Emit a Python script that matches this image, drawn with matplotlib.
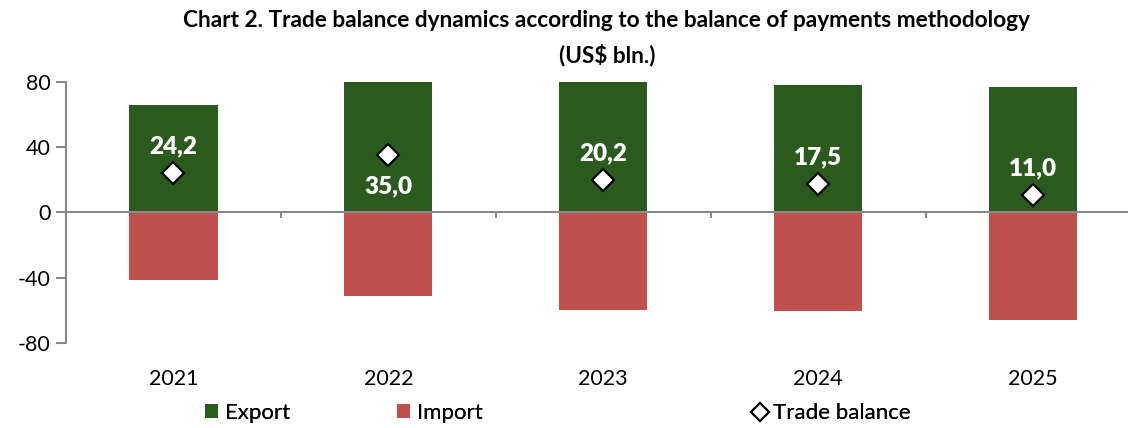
import matplotlib.pyplot as plt
from matplotlib.lines import Line2D
from matplotlib.patches import Patch

plt.rcParams['font.family'] = ['Lato', 'DejaVu Sans']

years = ['2021', '2022', '2023', '2024', '2025']
export = [65.7, 85.9, 80.2, 78.0, 77.0]
imports = [-41.5, -50.9, -60.0, -60.5, -66.0]
balance = [24.2, 35.0, 20.2, 17.5, 11.0]
balance_labels = ['24,2', '35,0', '20,2', '17,5', '11,0']

green = '#2A5A1E'
red = '#C0504D'
gray = '#898989'

fig = plt.figure(figsize=(11.28, 4.28), dpi=100)
ax = fig.add_axes([66/1128, 1-343/428, 1-66/1128, (343-82)/428])

x = list(range(len(years)))
ax.bar(x, export, width=0.41, color=green, zorder=2)
ax.bar(x, imports, width=0.41, color=red, zorder=2)
ax.plot(x, balance, linestyle='none', marker='D', markersize=11.5,
        markerfacecolor='white', markeredgecolor='black', markeredgewidth=1.6, zorder=4)

for i in x:
    # label above the marker, except 2022 where it goes below
    off = -22 if years[i] == '2022' else 19
    ax.annotate(balance_labels[i], (i, balance[i]), xytext=(0, off), textcoords='offset points',
                ha='center', va='center', color='white', fontsize=17.5, fontweight='heavy', zorder=5)

ax.set_ylim(-80, 80)
ax.set_xlim(-0.5, (1128-173)/215)
ax.set_yticks([-80, -40, 0, 40, 80])
ax.set_yticklabels(['-80', '-40', '0', '40', '80'])
ax.tick_params(axis='y', length=7, width=1.5, color=gray, labelsize=15.5, pad=4)
ax.set_xticks(x)
ax.set_xticklabels(years)
ax.tick_params(axis='x', length=0, labelsize=15.5, pad=19)

for s in ['top', 'right', 'bottom']:
    ax.spines[s].set_visible(False)
ax.spines['left'].set_color(gray)
ax.spines['left'].set_linewidth(1.5)
ax.axhline(0, color=gray, linewidth=1.5, zorder=3)
ax.vlines([i - 0.5 for i in range(len(years) + 1)], -3.5, 0, color=gray, linewidth=1.5, zorder=3)

fig.text(0.538, 0.951, 'Chart 2. Trade balance dynamics according to the balance of payments methodology',
         ha='center', va='center', fontsize=16.3, fontweight='bold')
fig.text(0.538, 0.872, '(US$ bln.)', ha='center', va='center', fontsize=16.3, fontweight='bold')

leg_items = [
    (Patch(facecolor=green), 'Export', 205),
    (Patch(facecolor=red), 'Import', 397),
    (Line2D([], [], linestyle='none', marker='D', markersize=9, markerfacecolor='white',
            markeredgecolor='black', markeredgewidth=1.5), 'Trade balance', 753),
]
for h, lab, px in leg_items:
    lg = fig.legend([h], [lab], loc='center left', bbox_to_anchor=(px/1128, 1-413/428),
                    frameon=False, fontsize=16, handlelength=0.6, handleheight=0.6,
                    handletextpad=0.3, borderpad=0, borderaxespad=0)
    fig.add_artist(lg)

fig.savefig('out.png', dpi=100)
